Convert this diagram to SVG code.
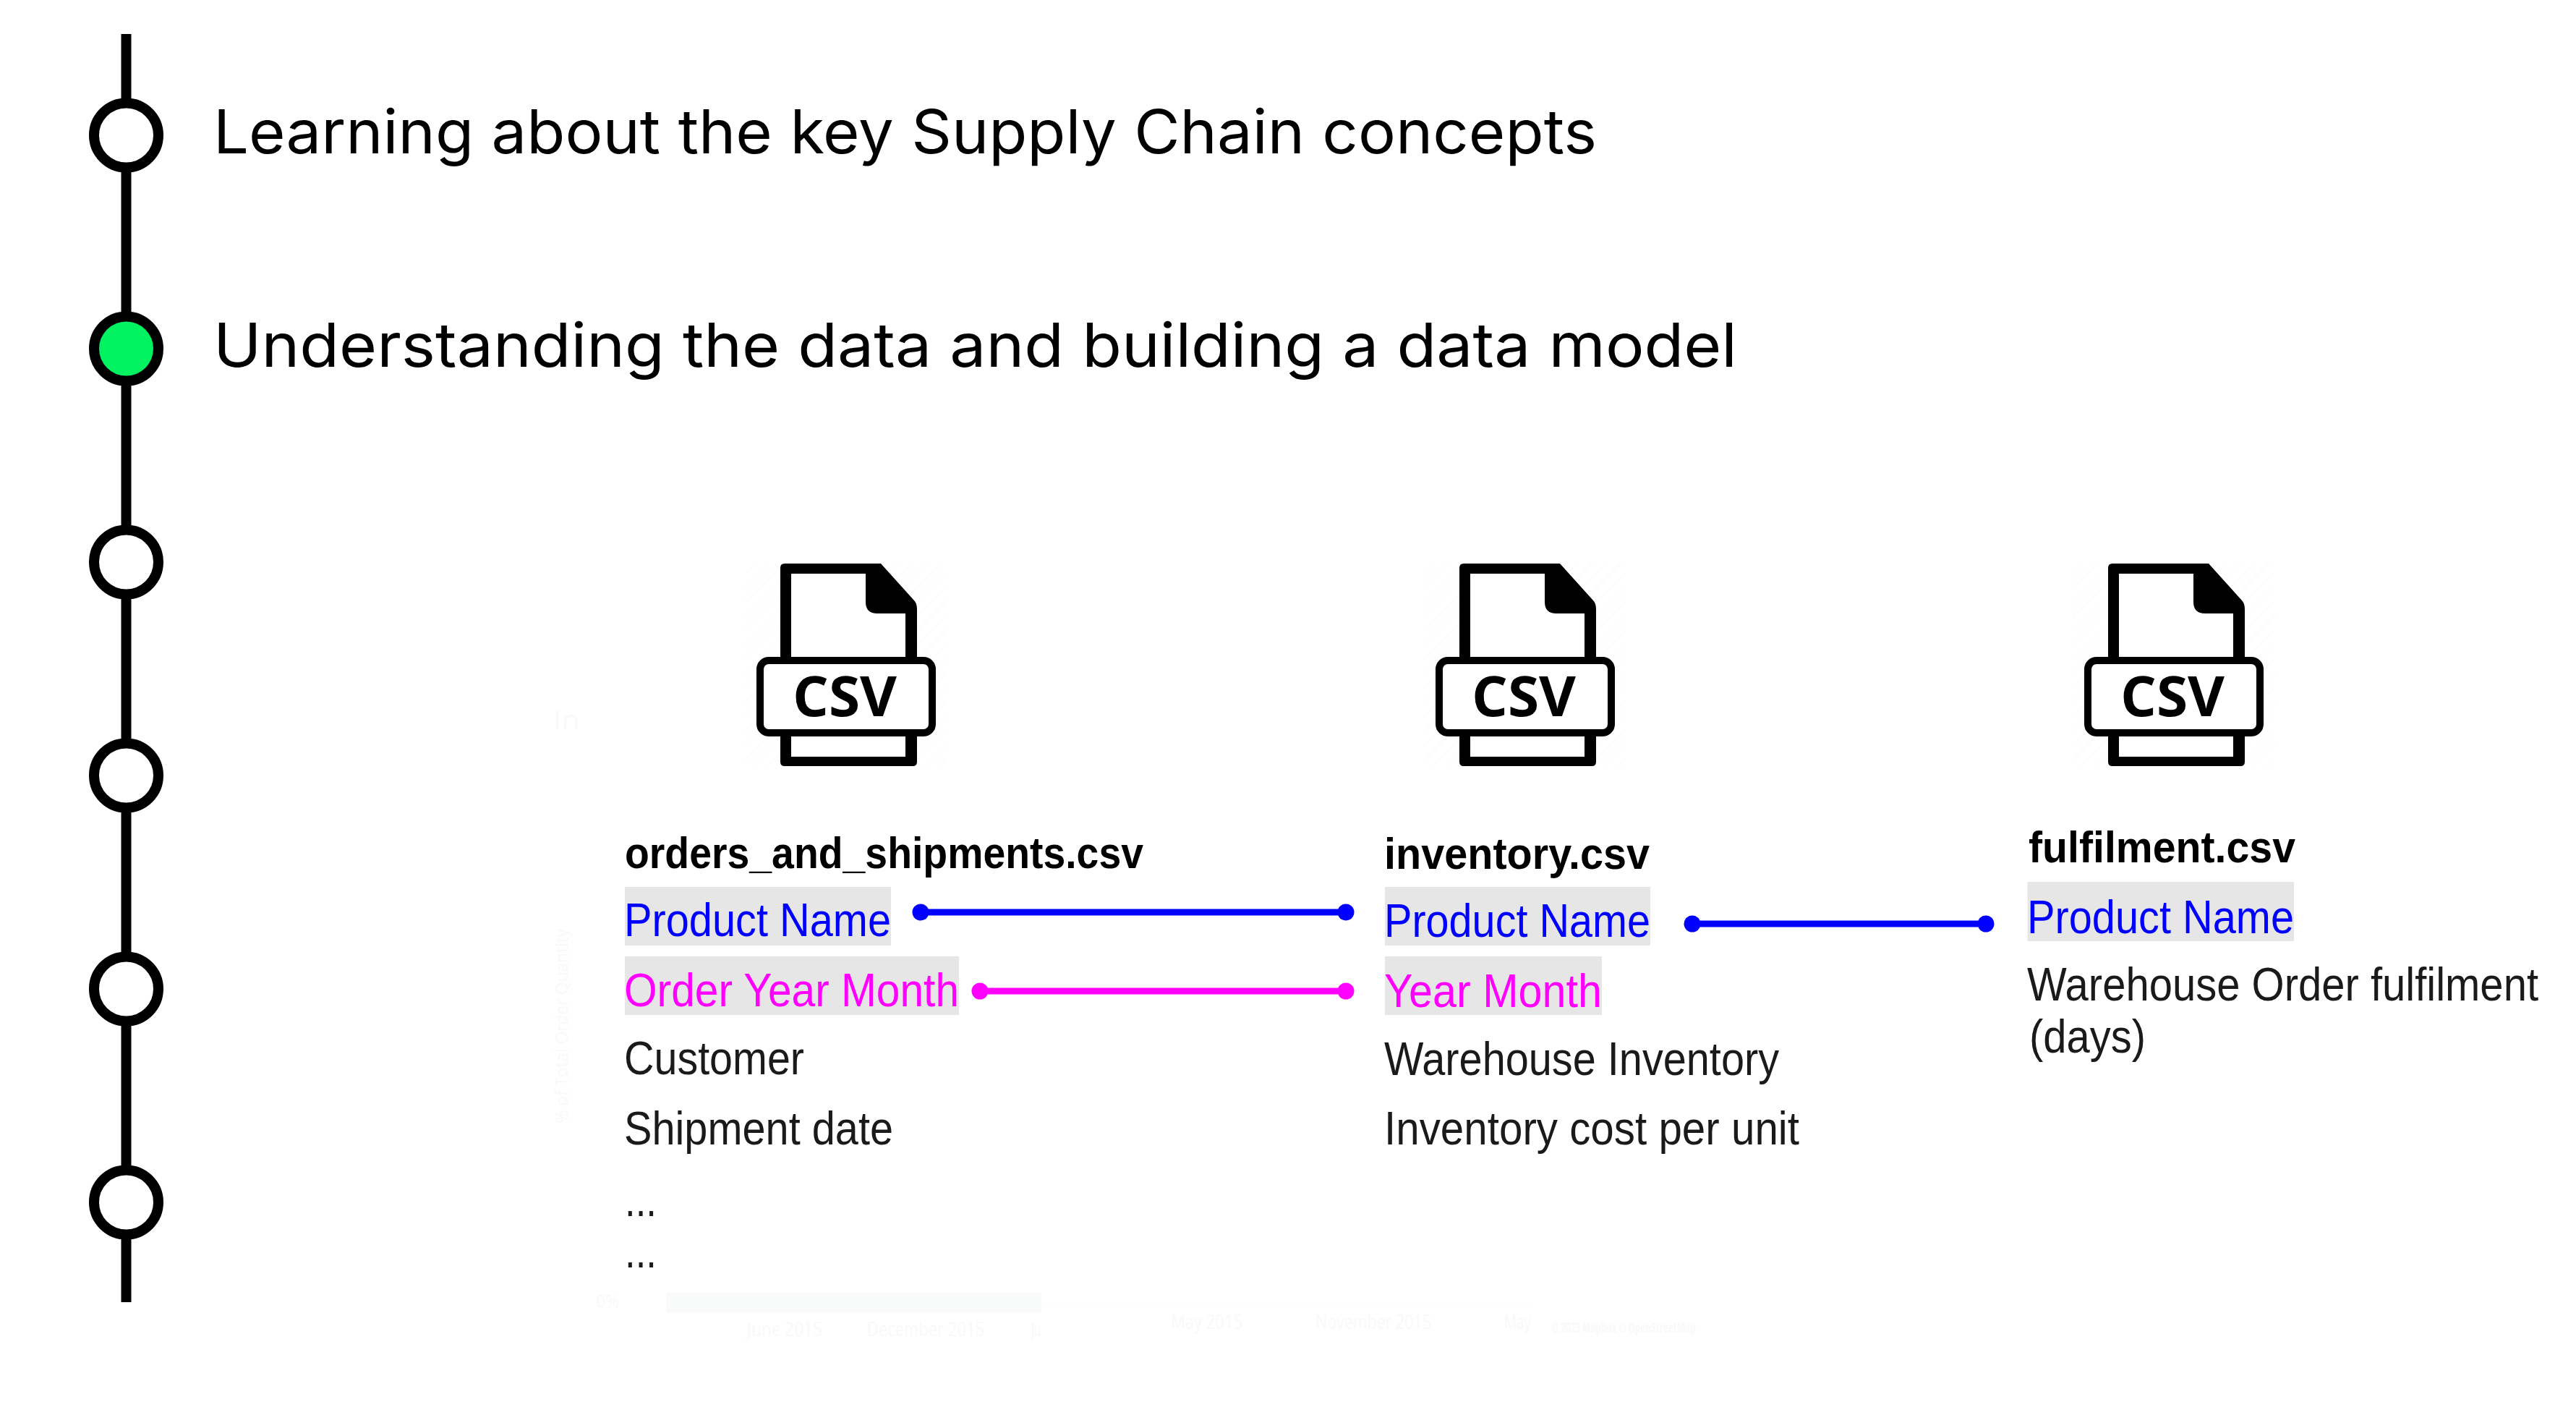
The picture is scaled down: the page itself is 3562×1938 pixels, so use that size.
<svg xmlns="http://www.w3.org/2000/svg" width="3562" height="1938" viewBox="0 0 3562 1938">
<style>
.step{fill:#fff;stroke:#000;stroke-width:14}
.head{font-family:"Inter","Liberation Sans",sans-serif;font-size:84px;fill:#000}
.t{font-family:"Liberation Sans",Arial,sans-serif;font-size:64px;fill:#1a1a1a}
.b{font-weight:700;fill:#000;font-size:62px}
.blue{fill:#0000ff}
.mag{fill:#ff00ff}
.hl{fill:#e6e6e6}
.csv{font-family:"Open Sans","Liberation Sans",sans-serif;font-weight:700;font-size:77px;fill:#000}
.ghost{font-family:"Open Sans","Liberation Sans",sans-serif;font-size:28px;fill:#f9f9f9}
.link{stroke-width:9;fill:none}
</style>
<defs>
<marker id="dotB" markerUnits="userSpaceOnUse" markerWidth="24" markerHeight="24" refX="12" refY="12"><circle cx="12" cy="12" r="11.5" fill="#0000ff"/></marker>
<marker id="dotM" markerUnits="userSpaceOnUse" markerWidth="24" markerHeight="24" refX="12" refY="12"><circle cx="12" cy="12" r="11.5" fill="#ff00ff"/></marker>
<pattern id="hatch" width="14" height="14" patternUnits="userSpaceOnUse" patternTransform="rotate(45)"><line x1="0" y1="0" x2="0" y2="14" stroke="#fcfcfc" stroke-width="5"/></pattern>
<g id="csvIcon">
<rect x="1030" y="779" width="279" height="280" fill="url(#hatch)"/>
<path fill="#000" d="M1085 779H1218L1264 830Q1268 834 1268 842V1053Q1268 1059 1262 1059H1085Q1079 1059 1079 1053V785Q1079 779 1085 779Z"/>
<path fill="#fff" d="M1094 793H1197V832Q1197 848 1213 848H1252V1046H1094Z"/>
<rect x="1051" y="913" width="238" height="100" rx="12" fill="#fff" stroke="#000" stroke-width="10"/>
</g>
</defs>
<rect width="3562" height="1938" fill="#fff"/>

<g id="ghost-residue">
<text class="ghost" x="765" y="1007" textLength="37" lengthAdjust="spacingAndGlyphs" style="font-size:35px">In</text>
<text class="ghost" transform="translate(785 1553) rotate(-90)" textLength="269" lengthAdjust="spacingAndGlyphs" style="font-size:24px">% of Total Order Quantity</text>
<text class="ghost" x="824" y="1807" textLength="32" lengthAdjust="spacingAndGlyphs" style="font-size:24px">0%</text>
<rect x="921" y="1787" width="519" height="27" fill="#f9fbfa"/>
<rect x="1440" y="1804" width="677" height="2" fill="#fdfdfd"/>
<text class="ghost" x="1033" y="1847" textLength="104" lengthAdjust="spacingAndGlyphs">June 2015</text>
<text class="ghost" x="1199" y="1847" textLength="162" lengthAdjust="spacingAndGlyphs">December 2015</text>
<text class="ghost" x="1426" y="1847" textLength="13" lengthAdjust="spacingAndGlyphs">Ju</text>
<text class="ghost" x="1619" y="1837" textLength="99" lengthAdjust="spacingAndGlyphs">May 2015</text>
<text class="ghost" x="1819" y="1837" textLength="160" lengthAdjust="spacingAndGlyphs">November 2015</text>
<text class="ghost" x="2080" y="1837" textLength="37" lengthAdjust="spacingAndGlyphs">May</text>
<text class="ghost" x="2145" y="1842" textLength="200" lengthAdjust="spacingAndGlyphs" style="font-size:20px;font-weight:700">© 2023 Mapbox © OpenStreetMap</text>
</g>

<g id="connectors">
<line x1="174.5" y1="47" x2="174.5" y2="1800" stroke="#000" stroke-width="14"/>
<line class="link" x1="1273" y1="1261" x2="1861" y2="1261" stroke="#0000ff" marker-start="url(#dotB)" marker-end="url(#dotB)"/>
<line class="link" x1="1355" y1="1370" x2="1861" y2="1370" stroke="#ff00ff" marker-start="url(#dotM)" marker-end="url(#dotM)"/>
<line class="link" x1="2340" y1="1277" x2="2746" y2="1277" stroke="#0000ff" marker-start="url(#dotB)" marker-end="url(#dotB)"/>
</g>

<g id="step-1"><circle class="step" cx="174.5" cy="187" r="44.5"/><text class="head" x="295" y="212" textLength="1913" lengthAdjust="spacingAndGlyphs">Learning about the key Supply Chain concepts</text></g>
<g id="step-2"><circle class="step" style="fill:#00f260" cx="174.5" cy="482" r="44.5"/><text class="head" x="295" y="507" textLength="2107" lengthAdjust="spacingAndGlyphs">Understanding the data and building a data model</text></g>
<g id="step-3"><circle class="step" cx="174.5" cy="777" r="44.5"/></g>
<g id="step-4"><circle class="step" cx="174.5" cy="1072" r="44.5"/></g>
<g id="step-5"><circle class="step" cx="174.5" cy="1367" r="44.5"/></g>
<g id="step-6"><circle class="step" cx="174.5" cy="1662" r="44.5"/></g>

<g id="file-orders">
<use href="#csvIcon"/>
<text class="csv" x="1096" y="990" textLength="144" lengthAdjust="spacingAndGlyphs">CSV</text>
<text class="t b" x="864" y="1200" textLength="717" lengthAdjust="spacingAndGlyphs">orders_and_shipments.csv</text>
<rect class="hl" x="864" y="1226" width="368" height="81"/>
<text class="t blue" x="863" y="1294" textLength="369" lengthAdjust="spacingAndGlyphs">Product Name</text>
<rect class="hl" x="864" y="1322" width="462" height="81"/>
<text class="t mag" x="863" y="1391" textLength="463" lengthAdjust="spacingAndGlyphs">Order Year Month</text>
<text class="t" x="863" y="1485" textLength="249" lengthAdjust="spacingAndGlyphs">Customer</text>
<text class="t" x="863" y="1582" textLength="372" lengthAdjust="spacingAndGlyphs">Shipment date</text>
<text class="t" x="864" y="1681" textLength="44" lengthAdjust="spacingAndGlyphs">...</text>
<text class="t" x="864" y="1752" textLength="44" lengthAdjust="spacingAndGlyphs">...</text>
</g>

<g id="file-inventory">
<use href="#csvIcon" x="939"/>
<text class="csv" x="2035" y="990" textLength="144" lengthAdjust="spacingAndGlyphs">CSV</text>
<text class="t b" x="1914" y="1201" textLength="367" lengthAdjust="spacingAndGlyphs">inventory.csv</text>
<rect class="hl" x="1915" y="1226" width="367" height="81"/>
<text class="t blue" x="1914" y="1295" textLength="368" lengthAdjust="spacingAndGlyphs">Product Name</text>
<rect class="hl" x="1915" y="1322" width="300" height="81"/>
<text class="t mag" x="1914" y="1392" textLength="301" lengthAdjust="spacingAndGlyphs">Year Month</text>
<text class="t" x="1914" y="1486" textLength="546" lengthAdjust="spacingAndGlyphs">Warehouse Inventory</text>
<text class="t" x="1914" y="1582" textLength="574" lengthAdjust="spacingAndGlyphs">Inventory cost per unit</text>
</g>

<g id="file-fulfilment">
<use href="#csvIcon" x="1836"/>
<text class="csv" x="2932" y="990" textLength="144" lengthAdjust="spacingAndGlyphs">CSV</text>
<text class="t b" x="2805" y="1192" textLength="369" lengthAdjust="spacingAndGlyphs">fulfilment.csv</text>
<rect class="hl" x="2803.5" y="1219" width="368.5" height="82"/>
<text class="t blue" x="2803" y="1290" textLength="369" lengthAdjust="spacingAndGlyphs">Product Name</text>
<text class="t" x="2803" y="1383" textLength="707" lengthAdjust="spacingAndGlyphs">Warehouse Order fulfilment</text>
<text class="t" x="2806" y="1455" textLength="161" lengthAdjust="spacingAndGlyphs">(days)</text>
</g>
</svg>
